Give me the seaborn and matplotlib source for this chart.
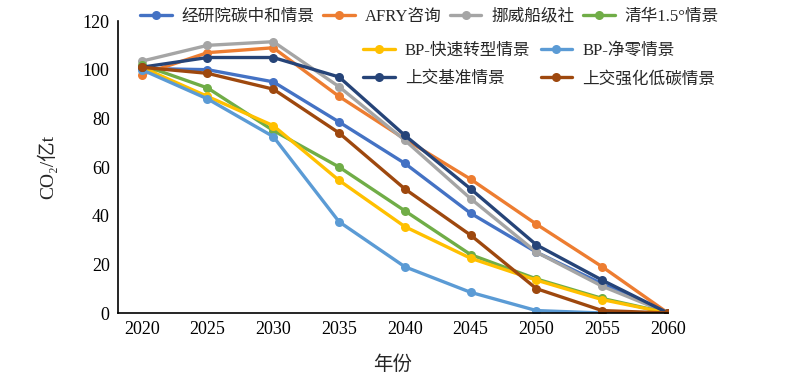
import matplotlib
matplotlib.use('Agg')
import matplotlib.pyplot as plt
import seaborn as sns
import pandas as pd

# CO2 emission pathways (亿t)
years = [2020, 2025, 2030, 2035, 2040, 2045, 2050, 2055, 2060]
scenarios = ["经研院碳中和情景", "AFRY咨询", "挪威船级社", "清华1.5°情景",
             "BP-快速转型情景", "BP-净零情景", "上交基准情景", "上交强化低碳情景"]
jyy = [100.5, 100, 95, 78.5, 61.5, 41, 25, 12, 0]
afry = [98, 107, 109, 89, 71.5, 55, 36.5, 19, 0]
dnv = [103.5, 110, 111.5, 93, 71, 47, 25, 11, 0]
tsinghua = [102, 92.5, 75, 60, 42, 24, 14, 6, 0]
bp_rapid = [101, 89, 77, 54.5, 35.5, 22.5, 13.5, 5.5, 0]
bp_netzero = [100, 88, 72.5, 37.5, 19, 8.5, 1, 0, 0]
sjtu_base = [101, 105, 105, 97, 73, 51, 28, 13.5, 0]
sjtu_low = [101, 98.5, 92, 74, 51, 32, 10, 1, 0]
series = [jyy, afry, dnv, tsinghua, bp_rapid, bp_netzero, sjtu_base, sjtu_low]
colors = ["#4472C4", "#ED7D31", "#A5A5A5", "#70AD47",
          "#FFC000", "#5B9BD5", "#264478", "#9E480E"]

rows = []
for name, vals in zip(scenarios, series):
    for yr, v in zip(years, vals):
        rows.append({"年份": yr, "排放": v, "情景": name})
df = pd.DataFrame(rows)

sns.set_theme(style="white")
plt.rcParams['font.family'] = ['Liberation Serif', 'Noto Sans CJK SC']
plt.rcParams['axes.unicode_minus'] = False

fig = plt.figure(figsize=(7.89, 3.80), dpi=100)
ax = fig.add_axes([0.1496, 0.1763, 0.697, 0.7684])

sns.lineplot(data=df, x="年份", y="排放", hue="情景", hue_order=scenarios,
             palette=colors, marker="o", markersize=6.5, markeredgewidth=0,
             linewidth=2.4, ax=ax, legend=False)

ax.set_xlim(2018.2, 2060)
ax.set_ylim(0, 120)
ax.set_xticks(years)
ax.set_yticks(range(0, 121, 20))
ax.tick_params(direction='in', length=6, width=1, colors='black', labelsize=13, pad=6)
for s in ['top', 'right']:
    ax.spines[s].set_visible(False)
for s in ['left', 'bottom']:
    ax.spines[s].set_color('black')
    ax.spines[s].set_linewidth(1.2)
ax.set_xlabel("年份", fontsize=14, labelpad=12)
ax.set_ylabel("CO₂/亿t", fontsize=14, labelpad=18)

handles = ax.get_lines()[:len(scenarios)]
leg_kw = dict(frameon=False, fontsize=12, handlelength=1.9, handletextpad=0.6,
              borderaxespad=0, labelspacing=0.75)
leg1 = fig.legend(handles[:4], scenarios[:4], ncol=4, loc='upper left',
                  bbox_to_anchor=(0.169, 0.995), columnspacing=0.5, **leg_kw)
leg2 = fig.legend([handles[4], handles[6], handles[5], handles[7]],
                  [scenarios[4], scenarios[6], scenarios[5], scenarios[7]],
                  ncol=2, loc='upper left', bbox_to_anchor=(0.452, 0.905),
                  columnspacing=0.6, **leg_kw)

fig.savefig("out.png", dpi=100)
